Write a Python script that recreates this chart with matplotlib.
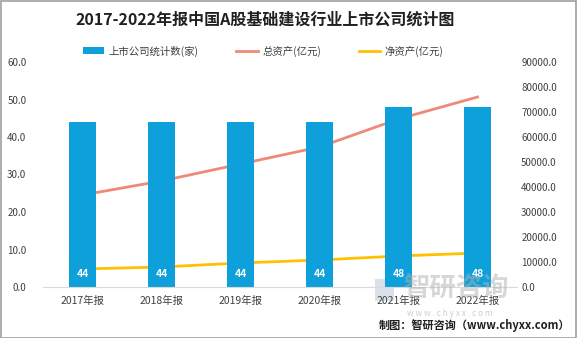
import matplotlib
matplotlib.use("Agg")
import matplotlib.pyplot as plt
from matplotlib.patches import Rectangle

plt.rcParams['font.family'] = ['Noto Sans CJK SC', 'DejaVu Sans']

categories = ["2017年报", "2018年报", "2019年报", "2020年报", "2021年报", "2022年报"]
company_count = [44, 44, 44, 44, 48, 48]
total_assets = [36800, 42400, 49200, 56000, 67200, 76000]
net_assets = [7200, 8000, 9600, 10800, 12400, 13600]

W, H = 577, 338
fig = plt.figure(figsize=(W/100, H/100), dpi=100)
fig.patch.set_facecolor('white')
fig.add_artist(Rectangle((0.5/W, 0.5/H), 1-1.5/W, 1-1.5/H, transform=fig.transFigure,
                         fill=False, edgecolor='#A0A0A0', linewidth=1.2))

ax = fig.add_axes([43/W, 1-287/H, 474/W, 225/H])
ax2 = ax.twinx()
ax.set_zorder(ax2.get_zorder() + 1)
ax.patch.set_visible(False)

x = list(range(len(categories)))
bars = ax.bar(x, company_count, width=0.33, color='#0EA0DA', zorder=2,
              label='上市公司统计数(家)')
for xi, v in zip(x, company_count):
    ax.text(xi, 3.5, str(v), ha='center', va='center', color='white',
            fontsize=7.5, fontweight='bold', zorder=5)

ax.set_xlim(-0.5, len(categories) - 0.5)
ax.set_ylim(0, 60)
ax.set_yticks(range(0, 61, 10))
ax.set_yticklabels([f"{v:.1f}" for v in range(0, 61, 10)])
ax.set_xticks(x)
ax.set_xticklabels(categories)

ax2.set_ylim(0, 90000)
ax2.set_yticks(range(0, 90001, 10000))
ax2.set_yticklabels([f"{v:.1f}" for v in range(0, 90001, 10000)])

ax3 = fig.add_axes(ax.get_position(), sharex=ax)
ax3.set_ylim(0, 90000)
ax3.patch.set_visible(False)
ax3.axis('off')
lt, = ax3.plot(x, total_assets, color='#EE8A77', linewidth=2, label='总资产(亿元)')
ln, = ax3.plot(x, net_assets, color='#FFC000', linewidth=2, label='净资产(亿元)')

for a in (ax, ax2):
    for s in a.spines.values():
        s.set_visible(False)
    a.tick_params(length=0, labelsize=7, colors='#404040')
ax.spines['bottom'].set_visible(True)
ax.spines['bottom'].set_color('#D9D9D9')
ax.tick_params(axis='x', labelsize=7.5, pad=6)
ax.tick_params(axis='y', pad=12)
ax2.tick_params(axis='y', pad=3)

fig.text(265/W, 1-20/H, "2017-2022年报中国A股基础建设行业上市公司统计图", ha='center', va='center',
         fontsize=11.5, fontweight='bold', color='#202020')

fig.legend(handles=[bars, lt, ln], loc='center', bbox_to_anchor=(263/W, 1-51/H), ncol=3,
           frameon=False, fontsize=7.5, handlelength=2.1, columnspacing=3.6,
           handletextpad=0.4, labelcolor='#404040')

# watermark
fig.text(403/W, 1-289/H, "智研咨询", fontsize=19, color='#B0B0B0', alpha=0.5,
         ha='left', va='center', fontweight='bold')
fig.text(450/W, 1-313/H, "w w w . c h y x x . c o m", fontsize=6, color='#B0B0B0',
         alpha=0.6, ha='center', va='center')
fig.add_artist(Rectangle((375/W, 1-301/H), 19/W, 22/H, transform=fig.transFigure,
                         facecolor='#B8C4D4', alpha=0.5, edgecolor='none'))

fig.text(570/W, 1-326/H, "制图：智研咨询（www.chyxx.com）", ha='right', va='center',
         fontsize=8, fontweight='bold', color='#202020')

fig.savefig("out.png", dpi=100)
